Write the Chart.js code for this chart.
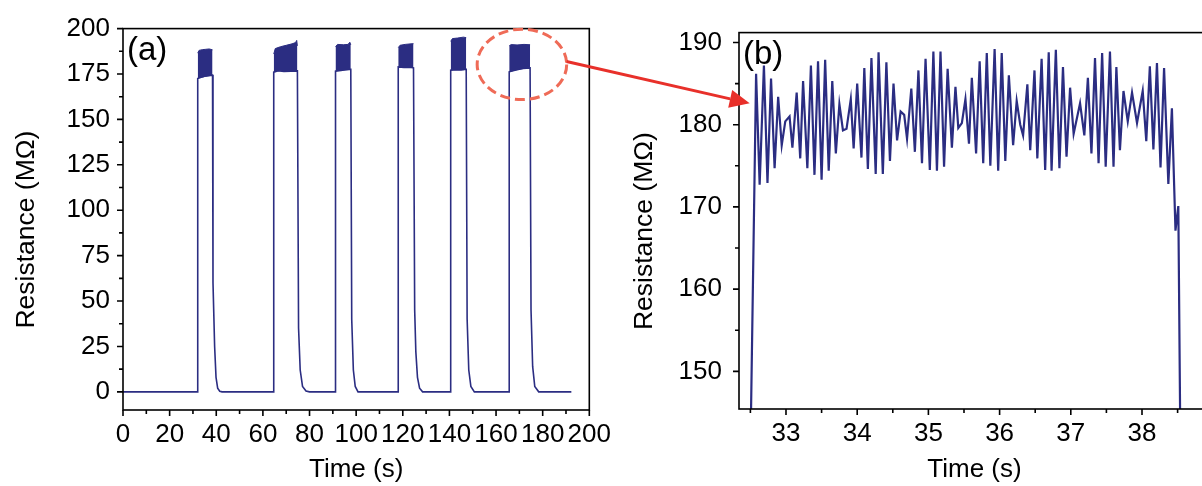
<!DOCTYPE html>
<html>
<head>
<meta charset="utf-8">
<script src="https://cdn.jsdelivr.net/npm/chart.js@4.4.0/dist/chart.umd.min.js"></script>
<style>
  html, body { margin: 0; padding: 0; background: #fff; overflow: hidden; width: 1202px; height: 486px; }
  .box { position: absolute; top: 0; height: 486px; }
  #boxA { left: 0; width: 620px; }
  #boxB { left: 620px; width: 600px; }
  #over { position: absolute; left: 0; top: 0; pointer-events: none; }
</style>
</head>
<body>
<div id="boxA" class="box"><canvas id="chartA"></canvas></div>
<div id="boxB" class="box"><canvas id="chartB"></canvas></div>
<canvas id="over" width="1202" height="486"></canvas>
<script>
// ---- panel (a): whole measurement ----
const traceT = [0, 32.0, 32.05, 33.5, 35.0, 36.5, 38.4, 38.6, 39.3, 39.9, 40.6, 41.5, 42.5,
  64.6, 64.65, 66.5, 69.0, 72.0, 74.8, 75.3, 76.0, 77.0, 78.5, 80.0,
  91.1, 91.15, 93.5, 95.5, 97.7, 98.1, 98.8, 99.6, 100.8,
  118.0, 118.05, 120.5, 122.5, 124.6, 125.1, 125.6, 126.3, 127.2, 128.5,
  140.5, 140.55, 143.0, 145.0, 147.2, 147.6, 148.3, 149.2, 150.7,
  165.6, 165.65, 168.5, 171.5, 174.6, 175.0, 175.7, 176.6, 178.3, 192.3];
const traceR = [0, 0, 172.5, 173.2, 173.8, 174.1, 174.4, 60, 25, 8, 2, 0.3, 0,
  0, 176.0, 176.8, 176.4, 176.6, 176.7, 35, 12, 3, 0.5, 0,
  0, 176.6, 177.0, 177.3, 177.6, 40, 12, 3, 0,
  0, 178.9, 178.6, 178.8, 178.4, 45, 22, 8, 2, 0,
  0, 177.1, 177.4, 177.3, 177.6, 40, 12, 3, 0,
  0, 176.2, 177.2, 178.0, 178.4, 45, 14, 3, 0, 0];

// dense oscillation band on top of each pulse (null = gap between pulses)
const bandT = [32.05, 32.6, 34.0, 35.5, 37.0, 38.4, 50,
  64.65, 65.3, 67.5, 70.0, 72.5, 74.0, 74.5, 74.8, 85,
  91.15, 92.0, 94.5, 96.5, 97.3, 97.7, 110,
  118.05, 118.8, 121.0, 123.5, 124.6, 135,
  140.55, 141.3, 143.5, 146.0, 147.2, 155,
  165.65, 166.5, 169.0, 172.0, 174.6];
const bandLow = [172.5, 173.0, 173.3, 173.8, 174.1, 174.4, null,
  176.0, 176.6, 176.8, 176.4, 176.6, 176.7, 176.7, 176.7, null,
  176.6, 176.9, 177.2, 177.4, 177.5, 177.6, null,
  178.9, 178.8, 178.6, 178.7, 178.4, null,
  177.1, 177.3, 177.4, 177.4, 177.6, null,
  176.2, 176.6, 177.4, 178.1, 178.4];
const bandHigh = [186.5, 188.0, 188.4, 188.6, 188.8, 188.3, null,
  186.0, 189.0, 190.0, 190.8, 191.6, 192.3, 193.5, 190.5, null,
  190.0, 191.3, 191.1, 191.3, 192.5, 191.0, null,
  189.5, 190.8, 191.3, 191.6, 191.7, null,
  193.0, 194.5, 194.8, 195.3, 195.0, null,
  190.5, 191.2, 191.0, 191.3, 191.1];

const xTicksA = [0, 20, 40, 60, 80, 100, 120, 140, 160, 180, 200];
const xMinorA = [10, 30, 50, 70, 90, 110, 130, 150, 170, 190];
const yTicksA = [0, 25, 50, 75, 100, 125, 150, 175, 200];
const yMinorA = [12.5, 37.5, 62.5, 87.5, 112.5, 137.5, 162.5, 187.5];

// ---- panel (b): zoom on one pulse ----
const timeB = [32.50, 32.58, 32.63, 32.69, 32.74, 32.79, 32.84, 32.89, 32.94, 32.99,
  33.05, 33.09, 33.15, 33.20, 33.24, 33.30, 33.35, 33.40, 33.45, 33.50,
  33.55, 33.60, 33.65, 33.70, 33.75, 33.80, 33.85, 33.91, 33.95, 34.00,
  34.06, 34.10, 34.15, 34.20, 34.26, 34.30, 34.36, 34.41, 34.46, 34.51,
  34.56, 34.61, 34.66, 34.70, 34.76, 34.81, 34.86, 34.91, 34.96, 35.02,
  35.07, 35.12, 35.17, 35.22, 35.27, 35.33, 35.38, 35.42, 35.47, 35.52,
  35.57, 35.61, 35.67, 35.72, 35.77, 35.82, 35.87, 35.93, 35.98, 36.03,
  36.08, 36.13, 36.19, 36.24, 36.29, 36.33, 36.39, 36.43, 36.49, 36.53,
  36.59, 36.64, 36.69, 36.73, 36.79, 36.84, 36.89, 36.94, 36.99, 37.04,
  37.13, 37.19, 37.24, 37.29, 37.34, 37.39, 37.44, 37.49, 37.55, 37.60,
  37.64, 37.69, 37.74, 37.80, 37.86, 37.93, 38.01, 38.06, 38.11, 38.16,
  38.21, 38.26, 38.31, 38.37, 38.42, 38.47, 38.51, 38.54];
const resB = [140, 186.2, 172.7, 187.2, 172.9, 185.6, 174.7, 183.4, 177.5, 180.4,
  181.0, 177.2, 183.9, 175.9, 185.3, 174.7, 187.2, 173.9, 187.7, 173.3,
  187.9, 174.4, 185.3, 176.5, 182.5, 179.3, 179.5, 183.1, 177.1, 185.0,
  176.0, 186.9, 174.6, 188.1, 174.0, 188.8, 174.0, 187.6, 175.6, 185.0,
  178.1, 181.6, 181.2, 178.3, 184.4, 176.7, 186.6, 175.3, 188.0, 174.5,
  188.9, 174.4, 188.9, 174.9, 186.8, 177.2, 184.6, 179.6, 180.2, 183.1,
  177.7, 185.7, 176.5, 187.7, 175.3, 188.7, 175.0, 189.2, 174.4, 188.7,
  175.6, 186.0, 177.5, 182.9, 180.0, 178.7, 184.9, 176.9, 186.6, 175.9,
  188.0, 174.5, 188.8, 174.4, 189.1, 174.7, 187.0, 176.1, 184.5, 178.9,
  182.6, 178.7, 185.7, 176.5, 188.1, 175.3, 188.7, 174.9, 188.9, 174.9,
  187.0, 176.9, 184.1, 180.4, 183.9, 180.2, 184.1, 178.0, 187.1, 177.0,
  187.5, 174.8, 186.9, 172.8, 182.0, 167.1, 170.1, 140];

const xTicksB = [33, 34, 35, 36, 37, 38];
const xMinorB = [32.5, 33.5, 34.5, 35.5, 36.5, 37.5, 38.5];
const yTicksB = [150, 160, 170, 180, 190];
const yMinorB = [155, 165, 175, 185];

// annotation (data units of each panel)
const ringCenter = [171.1, 180.3];
const ringRadius = [19.2, 19.4];
const arrowTip = [32.49, 182.6];

const FONT = "'Liberation Sans', Arial, sans-serif";
const NAVY = '#2b2d82';
// trailing en space nudges the rotated title down a little, as in the original
const Y_TITLE = 'Resistance (M\u03A9)\u2002 ';

function pts(xs, ys) { return xs.map((x, i) => ({x: x, y: ys[i]})); }

// box, outward major/minor ticks and the panel letter
const frame = {
  id: 'frame',
  afterDatasetsDraw(chart, args, o) {
    const {ctx, chartArea: a, scales: {x, y}} = chart;
    ctx.save();
    ctx.strokeStyle = '#000';
    ctx.lineWidth = 1.6;
    ctx.strokeRect(a.left, a.top, a.right - a.left, a.bottom - a.top);
    ctx.beginPath();
    x.ticks.forEach(t => { const p = x.getPixelForValue(t.value); ctx.moveTo(p, a.bottom); ctx.lineTo(p, a.bottom + 6); });
    o.xMinor.forEach(v => { const p = x.getPixelForValue(v); ctx.moveTo(p, a.bottom); ctx.lineTo(p, a.bottom + 4); });
    y.ticks.forEach(t => { const p = y.getPixelForValue(t.value); ctx.moveTo(a.left, p); ctx.lineTo(a.left - 6, p); });
    o.yMinor.forEach(v => { const p = y.getPixelForValue(v); ctx.moveTo(a.left, p); ctx.lineTo(a.left - 4, p); });
    ctx.stroke();
    ctx.fillStyle = '#000';
    ctx.font = '33px ' + FONT;
    ctx.textBaseline = 'alphabetic';
    ctx.fillText(o.label, a.left + 4, a.top + 31);
    ctx.restore();
  }
};

function axisOpts(min, max, ticks, pad, title, titleSize, titlePad) {
  return {
    type: 'linear', min: min, max: max,
    grid: {display: false, drawTicks: false},
    border: {display: false},
    afterBuildTicks: s => { s.ticks = ticks.map(v => ({value: v})); },
    ticks: {color: '#000', font: {family: FONT, size: 26}, padding: pad, maxRotation: 0, minRotation: 0, autoSkip: false},
    title: {display: true, text: title, color: '#000', font: {family: FONT, size: titleSize}, padding: titlePad}
  };
}

const base = {
  responsive: true, maintainAspectRatio: false, animation: false,
  elements: {point: {radius: 0}, line: {tension: 0}},
  events: []
};

const xa = axisOpts(0, 200, xTicksA, 9, 'Time (s)', 26, {top: 0, bottom: 1});
xa.afterFit = s => { s.height = 76; };
const ya = axisOpts(-10, 200, yTicksA, 13, Y_TITLE, 26.5, {top: 11, bottom: 0});
ya.afterFit = s => { s.width = 123; };

const chartA = new Chart(document.getElementById('chartA'), {
  type: 'line',
  data: {
    datasets: [
      {data: pts(bandT, bandLow), borderColor: NAVY, borderWidth: 1, fill: false},
      {data: pts(bandT, bandHigh), borderColor: NAVY, borderWidth: 1, fill: '-1', backgroundColor: NAVY},
      {data: pts(traceT, traceR), borderColor: NAVY, borderWidth: 1.6, fill: false}
    ]
  },
  options: Object.assign({}, base, {
    layout: {padding: {top: 26.5, right: 23, left: 0, bottom: 0}},
    plugins: {legend: {display: false}, tooltip: {enabled: false},
      frame: {label: '(a)', xMinor: xMinorA, yMinor: yMinorA}},
    scales: {x: xa, y: ya}
  }),
  plugins: [frame]
});

const xb = axisOpts(32.34, 38.955, xTicksB, 9, 'Time (s)', 26, {top: 0, bottom: 1});
xb.afterFit = s => { s.height = 77; };
const yb = axisOpts(145.42, 191.2, yTicksB, 17, Y_TITLE, 26.5, {top: 9, bottom: 0});
yb.afterFit = s => { s.width = 119; };

const chartB = new Chart(document.getElementById('chartB'), {
  type: 'line',
  data: {
    datasets: [
      {data: pts(timeB, resB), borderColor: NAVY, borderWidth: 2.2, fill: false}
    ]
  },
  options: Object.assign({}, base, {
    layout: {padding: {top: 29, right: 10, left: 0, bottom: 0}},
    plugins: {legend: {display: false}, tooltip: {enabled: false},
      frame: {label: '(b)', xMinor: xMinorB, yMinor: yMinorB}},
    scales: {x: xb, y: yb}
  }),
  plugins: [frame]
});

// dashed ring around the last pulse and arrow to panel (b)
function drawNotes() {
  const c = document.getElementById('over').getContext('2d');
  c.clearRect(0, 0, 1202, 486);
  const ax = chartA.scales.x, ay = chartA.scales.y;
  const bx = chartB.scales.x, by = chartB.scales.y;
  const offB = document.getElementById('boxB').offsetLeft;
  const cx = ax.getPixelForValue(ringCenter[0]), cy = ay.getPixelForValue(ringCenter[1]);
  const rx = ax.getPixelForValue(ringCenter[0] + ringRadius[0]) - cx;
  const ry = cy - ay.getPixelForValue(ringCenter[1] + ringRadius[1]);
  c.strokeStyle = '#ef6b57';
  c.lineWidth = 3;
  c.setLineDash([10, 5]);
  c.beginPath();
  c.ellipse(cx, cy, rx, ry, 0, 0, Math.PI * 2);
  c.stroke();
  c.setLineDash([]);

  const sx = cx + rx * Math.cos(-0.08), sy = cy + ry * Math.sin(-0.08);
  const tx = offB + bx.getPixelForValue(arrowTip[0]), ty = by.getPixelForValue(arrowTip[1]);
  const ang = Math.atan2(ty - sy, tx - sx);
  const hl = 20, hw = 9;
  const hx = tx - hl * Math.cos(ang), hy = ty - hl * Math.sin(ang);
  c.strokeStyle = '#e8302a';
  c.fillStyle = '#e8302a';
  c.beginPath();
  c.moveTo(sx, sy);
  c.lineTo(hx, hy);
  c.stroke();
  c.beginPath();
  c.moveTo(tx, ty);
  c.lineTo(hx + hw * Math.sin(ang), hy - hw * Math.cos(ang));
  c.lineTo(hx - hw * Math.sin(ang), hy + hw * Math.cos(ang));
  c.closePath();
  c.fill();
}
drawNotes();
</script>
</body>
</html>
